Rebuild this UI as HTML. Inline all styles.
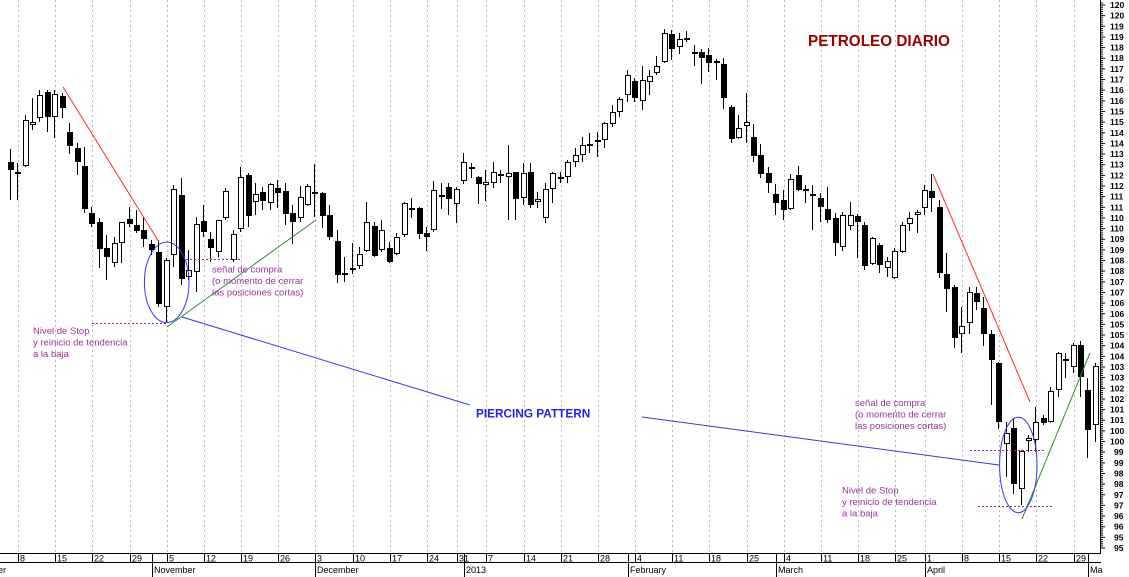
<!DOCTYPE html>
<html><head><meta charset="utf-8"><style>
html,body{margin:0;padding:0;background:#fff;}
svg{display:block;}
text{font-family:"Liberation Sans",Arial,sans-serif;}
</style></head><body>
<svg width="1129" height="577" viewBox="0 0 1129 577" xmlns="http://www.w3.org/2000/svg">
<rect x="0" y="0" width="1129" height="577" fill="#fff"/>
<!-- dotted vertical gridlines -->
<g stroke="#b8b8b8" stroke-width="1" stroke-dasharray="2 3">
<line x1="18.5" y1="0" x2="18.5" y2="553"/><line x1="55.5" y1="0" x2="55.5" y2="553"/><line x1="92.5" y1="0" x2="92.5" y2="553"/><line x1="130.5" y1="0" x2="130.5" y2="553"/><line x1="167.5" y1="0" x2="167.5" y2="553"/><line x1="204.5" y1="0" x2="204.5" y2="553"/><line x1="241.5" y1="0" x2="241.5" y2="553"/><line x1="278.5" y1="0" x2="278.5" y2="553"/><line x1="315.5" y1="0" x2="315.5" y2="553"/><line x1="353.5" y1="0" x2="353.5" y2="553"/><line x1="390.5" y1="0" x2="390.5" y2="553"/><line x1="427.5" y1="0" x2="427.5" y2="553"/><line x1="457.5" y1="0" x2="457.5" y2="553"/><line x1="486.5" y1="0" x2="486.5" y2="553"/><line x1="524.5" y1="0" x2="524.5" y2="553"/><line x1="561.5" y1="0" x2="561.5" y2="553"/><line x1="598.5" y1="0" x2="598.5" y2="553"/><line x1="635.5" y1="0" x2="635.5" y2="553"/><line x1="672.5" y1="0" x2="672.5" y2="553"/><line x1="709.5" y1="0" x2="709.5" y2="553"/><line x1="747.5" y1="0" x2="747.5" y2="553"/><line x1="784.5" y1="0" x2="784.5" y2="553"/><line x1="821.5" y1="0" x2="821.5" y2="553"/><line x1="858.5" y1="0" x2="858.5" y2="553"/><line x1="895.5" y1="0" x2="895.5" y2="553"/><line x1="925.5" y1="0" x2="925.5" y2="553"/><line x1="962.5" y1="0" x2="962.5" y2="553"/><line x1="999.5" y1="0" x2="999.5" y2="553"/><line x1="1036.5" y1="0" x2="1036.5" y2="553"/><line x1="1074.5" y1="0" x2="1074.5" y2="553"/>
</g>

<!-- wicks -->
<g fill="#000" shape-rendering="crispEdges">
<rect x="10" y="149" width="1" height="51"/><rect x="17" y="163" width="1" height="37"/><rect x="25" y="115" width="1" height="52"/><rect x="32" y="98" width="1" height="32"/><rect x="39" y="90" width="1" height="32"/><rect x="47" y="90" width="1" height="42"/><rect x="54" y="90" width="1" height="48"/><rect x="62" y="93" width="1" height="25"/><rect x="69" y="123" width="1" height="31"/><rect x="77" y="143" width="1" height="32"/>
<rect x="84" y="147" width="1" height="66"/><rect x="91" y="207" width="1" height="20"/><rect x="99" y="218" width="1" height="50"/><rect x="106" y="235" width="1" height="45"/><rect x="114" y="237" width="1" height="30"/><rect x="121" y="222" width="1" height="41"/><rect x="129" y="207" width="1" height="20"/><rect x="136" y="210" width="1" height="23"/><rect x="143" y="217" width="1" height="30"/><rect x="151" y="240" width="1" height="15"/>
<rect x="158" y="240" width="1" height="67"/><rect x="166" y="258" width="1" height="65"/><rect x="173" y="185" width="1" height="82"/><rect x="181" y="178" width="1" height="107"/><rect x="188" y="250" width="1" height="30"/><rect x="196" y="217" width="1" height="75"/><rect x="203" y="205" width="1" height="32"/><rect x="210" y="232" width="1" height="30"/><rect x="218" y="220" width="1" height="37"/><rect x="225" y="188" width="1" height="32"/>
<rect x="233" y="230" width="1" height="32"/><rect x="240" y="167" width="1" height="65"/><rect x="248" y="173" width="1" height="54"/><rect x="255" y="183" width="1" height="32"/><rect x="262" y="187" width="1" height="23"/><rect x="270" y="183" width="1" height="27"/><rect x="277" y="180" width="1" height="28"/><rect x="285" y="183" width="1" height="42"/><rect x="292" y="205" width="1" height="39"/><rect x="300" y="186" width="1" height="36"/>
<rect x="307" y="184" width="1" height="22"/><rect x="314" y="164" width="1" height="53"/><rect x="322" y="192" width="1" height="36"/><rect x="329" y="205" width="1" height="35"/><rect x="337" y="230" width="1" height="53"/><rect x="344" y="257" width="1" height="25"/><rect x="352" y="243" width="1" height="31"/><rect x="359" y="247" width="1" height="22"/><rect x="366" y="202" width="1" height="50"/><rect x="374" y="222" width="1" height="35"/>
<rect x="381" y="220" width="1" height="32"/><rect x="389" y="242" width="1" height="21"/><rect x="396" y="233" width="1" height="22"/><rect x="404" y="202" width="1" height="35"/><rect x="411" y="198" width="1" height="20"/><rect x="419" y="207" width="1" height="32"/><rect x="426" y="227" width="1" height="24"/><rect x="433" y="181" width="1" height="51"/><rect x="441" y="183" width="1" height="26"/><rect x="448" y="183" width="1" height="32"/>
<rect x="456" y="187" width="1" height="36"/><rect x="463" y="153" width="1" height="31"/><rect x="471" y="163" width="1" height="15"/><rect x="478" y="176" width="1" height="28"/><rect x="485" y="170" width="1" height="31"/><rect x="493" y="162" width="1" height="26"/><rect x="500" y="170" width="1" height="13"/><rect x="508" y="145" width="1" height="75"/><rect x="515" y="172" width="1" height="48"/><rect x="523" y="163" width="1" height="42"/>
<rect x="530" y="163" width="1" height="45"/><rect x="537" y="192" width="1" height="16"/><rect x="545" y="183" width="1" height="40"/><rect x="552" y="172" width="1" height="31"/><rect x="560" y="172" width="1" height="11"/><rect x="567" y="160" width="1" height="23"/><rect x="575" y="148" width="1" height="19"/><rect x="582" y="137" width="1" height="25"/><rect x="589" y="133" width="1" height="20"/><rect x="597" y="132" width="1" height="25"/>
<rect x="604" y="122" width="1" height="26"/><rect x="612" y="105" width="1" height="22"/><rect x="619" y="97" width="1" height="20"/><rect x="627" y="70" width="1" height="32"/><rect x="634" y="78" width="1" height="24"/><rect x="642" y="66" width="1" height="44"/><rect x="649" y="70" width="1" height="25"/><rect x="656" y="56" width="1" height="19"/><rect x="664" y="29" width="1" height="34"/><rect x="671" y="30" width="1" height="30"/>
<rect x="679" y="33" width="1" height="21"/><rect x="686" y="31" width="1" height="11"/><rect x="694" y="45" width="1" height="21"/><rect x="701" y="49" width="1" height="35"/><rect x="708" y="48" width="1" height="24"/><rect x="716" y="59" width="1" height="21"/><rect x="723" y="58" width="1" height="51"/><rect x="731" y="105" width="1" height="38"/><rect x="738" y="115" width="1" height="24"/><rect x="746" y="93" width="1" height="50"/>
<rect x="753" y="124" width="1" height="38"/><rect x="760" y="144" width="1" height="34"/><rect x="768" y="167" width="1" height="26"/><rect x="775" y="184" width="1" height="31"/><rect x="783" y="190" width="1" height="30"/><rect x="790" y="174" width="1" height="36"/><rect x="798" y="166" width="1" height="25"/><rect x="805" y="185" width="1" height="18"/><rect x="812" y="185" width="1" height="45"/><rect x="820" y="193" width="1" height="29"/>
<rect x="827" y="187" width="1" height="36"/><rect x="835" y="213" width="1" height="43"/><rect x="842" y="212" width="1" height="39"/><rect x="850" y="202" width="1" height="28"/><rect x="857" y="214" width="1" height="44"/><rect x="864" y="222" width="1" height="48"/><rect x="872" y="237" width="1" height="28"/><rect x="879" y="243" width="1" height="30"/><rect x="887" y="257" width="1" height="20"/><rect x="894" y="248" width="1" height="31"/>
<rect x="902" y="222" width="1" height="31"/><rect x="909" y="212" width="1" height="19"/><rect x="917" y="210" width="1" height="23"/><rect x="924" y="185" width="1" height="30"/><rect x="931" y="174" width="1" height="38"/><rect x="939" y="200" width="1" height="78"/><rect x="946" y="253" width="1" height="59"/><rect x="954" y="285" width="1" height="63"/><rect x="961" y="307" width="1" height="46"/><rect x="969" y="287" width="1" height="47"/>
<rect x="976" y="287" width="1" height="23"/><rect x="983" y="297" width="1" height="49"/><rect x="991" y="330" width="1" height="75"/><rect x="998" y="362" width="1" height="67"/><rect x="1006" y="422" width="1" height="55"/><rect x="1013" y="419" width="1" height="75"/><rect x="1021" y="450" width="1" height="55"/><rect x="1028" y="435" width="1" height="17"/><rect x="1035" y="407" width="1" height="45"/><rect x="1043" y="415" width="1" height="10"/>
<rect x="1050" y="387" width="1" height="36"/><rect x="1058" y="352" width="1" height="45"/><rect x="1065" y="353" width="1" height="25"/><rect x="1073" y="343" width="1" height="30"/><rect x="1080" y="341" width="1" height="56"/><rect x="1087" y="378" width="1" height="80"/><rect x="1095" y="363" width="1" height="79"/>
</g>

<!-- black bodies -->
<g fill="#000" shape-rendering="crispEdges">
<rect x="8" y="162" width="6" height="8"/><rect x="15" y="172" width="6" height="2"/><rect x="45" y="92" width="6" height="25"/><rect x="60" y="96" width="6" height="12"/><rect x="67" y="132" width="6" height="14"/><rect x="75" y="148" width="6" height="14"/><rect x="82" y="166" width="6" height="43"/><rect x="89" y="213" width="6" height="11"/><rect x="97" y="222" width="6" height="27"/><rect x="104" y="248" width="6" height="9"/>
<rect x="127" y="219" width="6" height="5"/><rect x="134" y="225" width="6" height="6"/><rect x="141" y="230" width="6" height="9"/><rect x="149" y="244" width="6" height="6"/><rect x="156" y="252" width="6" height="52"/><rect x="179" y="195" width="6" height="84"/><rect x="201" y="221" width="6" height="11"/><rect x="208" y="239" width="6" height="9"/><rect x="246" y="175" width="6" height="41"/><rect x="260" y="192" width="6" height="9"/>
<rect x="275" y="188" width="6" height="5"/><rect x="283" y="191" width="6" height="23"/><rect x="290" y="213" width="6" height="9"/><rect x="312" y="192" width="6" height="2"/><rect x="320" y="193" width="6" height="23"/><rect x="327" y="215" width="6" height="22"/><rect x="335" y="241" width="6" height="34"/><rect x="342" y="273" width="6" height="2"/><rect x="350" y="268" width="6" height="2"/><rect x="372" y="226" width="6" height="30"/>
<rect x="387" y="248" width="6" height="14"/><rect x="409" y="208" width="6" height="2"/><rect x="417" y="208" width="6" height="26"/><rect x="424" y="233" width="6" height="4"/><rect x="439" y="195" width="6" height="2"/><rect x="446" y="187" width="6" height="12"/><rect x="469" y="167" width="6" height="2"/><rect x="476" y="177" width="6" height="7"/><rect x="498" y="174" width="6" height="2"/><rect x="513" y="172" width="6" height="27"/>
<rect x="528" y="172" width="6" height="33"/><rect x="558" y="177" width="6" height="2"/><rect x="587" y="144" width="6" height="2"/><rect x="595" y="140" width="6" height="2"/><rect x="632" y="81" width="6" height="17"/><rect x="669" y="34" width="6" height="15"/><rect x="684" y="38" width="6" height="2"/><rect x="692" y="52" width="6" height="2"/><rect x="699" y="52" width="6" height="6"/><rect x="706" y="55" width="6" height="8"/>
<rect x="714" y="61" width="6" height="2"/><rect x="721" y="64" width="6" height="34"/><rect x="729" y="107" width="6" height="32"/><rect x="751" y="137" width="6" height="19"/><rect x="758" y="155" width="6" height="19"/><rect x="766" y="173" width="6" height="10"/><rect x="773" y="194" width="6" height="9"/><rect x="781" y="200" width="6" height="10"/><rect x="796" y="175" width="6" height="15"/><rect x="803" y="189" width="6" height="2"/>
<rect x="810" y="194" width="6" height="2"/><rect x="818" y="198" width="6" height="9"/><rect x="825" y="209" width="6" height="11"/><rect x="833" y="218" width="6" height="25"/><rect x="855" y="216" width="6" height="6"/><rect x="862" y="225" width="6" height="41"/><rect x="877" y="245" width="6" height="20"/><rect x="929" y="191" width="6" height="7"/><rect x="937" y="207" width="6" height="66"/><rect x="944" y="274" width="6" height="15"/>
<rect x="952" y="287" width="6" height="51"/><rect x="974" y="293" width="6" height="9"/><rect x="981" y="308" width="6" height="26"/><rect x="989" y="334" width="6" height="26"/><rect x="996" y="363" width="6" height="59"/><rect x="1011" y="428" width="6" height="56"/><rect x="1041" y="418" width="6" height="5"/><rect x="1063" y="359" width="6" height="2"/><rect x="1078" y="345" width="6" height="32"/><rect x="1085" y="390" width="6" height="40"/>
</g>

<!-- white bodies -->
<g fill="#fff" stroke="#000" stroke-width="1">
<rect x="23.5" y="120.5" width="5" height="45"/><rect x="30.5" y="122.5" width="5" height="2"/><rect x="37.5" y="95.5" width="5" height="22"/><rect x="52.5" y="94.5" width="5" height="22"/><rect x="112.5" y="243.5" width="5" height="19"/><rect x="119.5" y="222.5" width="5" height="20"/><rect x="164.5" y="260.5" width="5" height="46"/><rect x="171.5" y="189.5" width="5" height="65"/><rect x="186.5" y="270.5" width="5" height="6"/><rect x="194.5" y="224.5" width="5" height="47"/>
<rect x="216.5" y="220.5" width="5" height="31"/><rect x="223.5" y="191.5" width="5" height="26"/><rect x="231.5" y="234.5" width="5" height="25"/><rect x="238.5" y="177.5" width="5" height="51"/><rect x="253.5" y="194.5" width="5" height="7"/><rect x="268.5" y="184.5" width="5" height="18"/><rect x="298.5" y="197.5" width="5" height="20"/><rect x="305.5" y="186.5" width="5" height="18"/><rect x="357.5" y="254.5" width="5" height="11"/><rect x="364.5" y="222.5" width="5" height="28"/>
<rect x="379.5" y="230.5" width="5" height="19"/><rect x="394.5" y="237.5" width="5" height="16"/><rect x="402.5" y="203.5" width="5" height="31"/><rect x="431.5" y="190.5" width="5" height="39"/><rect x="454.5" y="189.5" width="5" height="14"/><rect x="461.5" y="162.5" width="5" height="18"/><rect x="483.5" y="182.5" width="5" height="2"/><rect x="491.5" y="172.5" width="5" height="10"/><rect x="506.5" y="173.5" width="5" height="3"/><rect x="521.5" y="173.5" width="5" height="24"/>
<rect x="535.5" y="199.5" width="5" height="2"/><rect x="543.5" y="189.5" width="5" height="28"/><rect x="550.5" y="173.5" width="5" height="15"/><rect x="565.5" y="162.5" width="5" height="14"/><rect x="573.5" y="155.5" width="5" height="6"/><rect x="580.5" y="145.5" width="5" height="9"/><rect x="602.5" y="123.5" width="5" height="16"/><rect x="610.5" y="112.5" width="5" height="11"/><rect x="617.5" y="99.5" width="5" height="12"/><rect x="625.5" y="75.5" width="5" height="19"/>
<rect x="640.5" y="80.5" width="5" height="20"/><rect x="647.5" y="76.5" width="5" height="5"/><rect x="654.5" y="66.5" width="5" height="6"/><rect x="662.5" y="33.5" width="5" height="28"/><rect x="677.5" y="39.5" width="5" height="7"/><rect x="736.5" y="128.5" width="5" height="9"/><rect x="744.5" y="122.5" width="5" height="3"/><rect x="788.5" y="179.5" width="5" height="29"/><rect x="840.5" y="215.5" width="5" height="31"/><rect x="848.5" y="215.5" width="5" height="10"/>
<rect x="870.5" y="238.5" width="5" height="25"/><rect x="885.5" y="261.5" width="5" height="6"/><rect x="892.5" y="251.5" width="5" height="26"/><rect x="900.5" y="225.5" width="5" height="26"/><rect x="907.5" y="218.5" width="5" height="5"/><rect x="915.5" y="212.5" width="5" height="2"/><rect x="922.5" y="190.5" width="5" height="17"/><rect x="959.5" y="326.5" width="5" height="7"/><rect x="967.5" y="292.5" width="5" height="30"/><rect x="1004.5" y="433.5" width="5" height="10"/>
<rect x="1019.5" y="451.5" width="5" height="37"/><rect x="1026.5" y="438.5" width="5" height="2"/><rect x="1033.5" y="422.5" width="5" height="17"/><rect x="1048.5" y="391.5" width="5" height="30"/><rect x="1056.5" y="353.5" width="5" height="36"/><rect x="1071.5" y="345.5" width="5" height="21"/><rect x="1093.5" y="366.5" width="5" height="58"/>
</g>

<!-- annotations -->
<g fill="none" stroke-width="1">
<line x1="63" y1="87" x2="159" y2="242" stroke="#ff2a2a"/>
<line x1="933" y1="174" x2="1030" y2="402" stroke="#ff2a2a"/>
<line x1="167" y1="327" x2="316" y2="220" stroke="#2e8b2e"/>
<line x1="1022" y1="519" x2="1090" y2="353" stroke="#2e8b2e"/>
<ellipse cx="166.7" cy="282.3" rx="22.3" ry="40.2" stroke="#3535ff"/>
<ellipse cx="1018.3" cy="465" rx="18.7" ry="47.7" stroke="#3535ff"/>
<line x1="182" y1="317" x2="470" y2="405" stroke="#3535ff"/>
<line x1="642" y1="417" x2="999" y2="465" stroke="#3535ff"/>
<g stroke="#8e2a8e" stroke-dasharray="2 2">
<line x1="92" y1="323.5" x2="167" y2="323.5"/>
<line x1="186" y1="259.5" x2="240" y2="259.5"/>
<line x1="970" y1="450.5" x2="1044" y2="450.5"/>
<line x1="978" y1="506.5" x2="1052" y2="506.5"/>
</g>
</g>

<text x="808" y="46" font-size="15.3" font-weight="bold" fill="#990000">PETROLEO DIARIO</text>
<text x="476" y="417.5" font-size="11.8" font-weight="bold" fill="#2222ee">PIERCING PATTERN</text>

<g font-size="9.5" fill="#993399">
<text x="212" y="272.5">señal de compra</text>
<text x="212" y="284">(o momento de cerrar</text>
<text x="212" y="295.5">las posiciones cortas)</text>
<text x="33" y="334">Nivel de Stop</text>
<text x="33" y="345.5">y reinicio de tendencia</text>
<text x="33" y="357">a la baja</text>
<text x="855" y="406">señal de compra</text>
<text x="855" y="417.5">(o momento de cerrar</text>
<text x="855" y="429">las posiciones cortas)</text>
<text x="842" y="493.5">Nivel de Stop</text>
<text x="842" y="505">y reinicio de tendencia</text>
<text x="842" y="516.5">a la baja</text>
</g>

<!-- right axis -->
<line x1="1100.5" y1="0" x2="1100.5" y2="553" stroke="#000"/>
<line x1="1102" y1="548.5" x2="1102" y2="2" stroke="#000" stroke-width="2" stroke-dasharray="1 1.129"/>
<line x1="1103" y1="548.5" x2="1103" y2="2" stroke="#000" stroke-width="4" stroke-dasharray="1 9.647"/>
<g font-size="8.5" font-weight="bold" fill="#000">
<text x="1114" y="551">95</text><text x="1114" y="540.4">95</text><text x="1114" y="529.7">96</text><text x="1114" y="519.1">96</text><text x="1114" y="508.4">97</text><text x="1114" y="497.8">97</text><text x="1114" y="487.1">98</text><text x="1114" y="476.5">98</text><text x="1114" y="465.8">99</text><text x="1114" y="455.2">99</text>
<text x="1110" y="444.5">100</text><text x="1110" y="433.9">100</text><text x="1110" y="423.2">101</text><text x="1110" y="412.6">101</text><text x="1110" y="401.9">102</text><text x="1110" y="391.3">102</text><text x="1110" y="380.6">103</text><text x="1110" y="370">103</text><text x="1110" y="359.4">104</text><text x="1110" y="348.7">104</text>
<text x="1110" y="338.1">105</text><text x="1110" y="327.4">105</text><text x="1110" y="316.8">106</text><text x="1110" y="306.1">106</text><text x="1110" y="295.5">107</text><text x="1110" y="284.8">107</text><text x="1110" y="274.2">108</text><text x="1110" y="263.5">108</text><text x="1110" y="252.9">109</text><text x="1110" y="242.2">109</text>
<text x="1110" y="231.6">110</text><text x="1110" y="221">110</text><text x="1110" y="210.3">111</text><text x="1110" y="199.7">111</text><text x="1110" y="189">112</text><text x="1110" y="178.4">112</text><text x="1110" y="167.7">113</text><text x="1110" y="157.1">113</text><text x="1110" y="146.4">114</text><text x="1110" y="135.8">114</text>
<text x="1110" y="125.1">115</text><text x="1110" y="114.5">115</text><text x="1110" y="103.8">116</text><text x="1110" y="93.2">116</text><text x="1110" y="82.5">117</text><text x="1110" y="71.9">117</text><text x="1110" y="61.2">118</text><text x="1110" y="50.6">118</text><text x="1110" y="40">119</text><text x="1110" y="29.3">119</text>
<text x="1110" y="18.7">120</text><text x="1110" y="8">120</text>
</g>

<!-- bottom date axis -->
<g stroke="#000" stroke-width="1" shape-rendering="crispEdges">
<line x1="0" y1="553.5" x2="1101" y2="553.5"/>
<line x1="0" y1="562.5" x2="1101" y2="562.5"/>
<line x1="18.5" y1="553" x2="18.5" y2="562"/><line x1="55.5" y1="553" x2="55.5" y2="562"/><line x1="92.5" y1="553" x2="92.5" y2="562"/><line x1="130.5" y1="553" x2="130.5" y2="562"/><line x1="167.5" y1="553" x2="167.5" y2="562"/><line x1="204.5" y1="553" x2="204.5" y2="562"/><line x1="241.5" y1="553" x2="241.5" y2="562"/><line x1="278.5" y1="553" x2="278.5" y2="562"/><line x1="353.5" y1="553" x2="353.5" y2="562"/><line x1="390.5" y1="553" x2="390.5" y2="562"/><line x1="427.5" y1="553" x2="427.5" y2="562"/><line x1="457.5" y1="553" x2="457.5" y2="562"/><line x1="486.5" y1="553" x2="486.5" y2="562"/><line x1="524.5" y1="553" x2="524.5" y2="562"/><line x1="561.5" y1="553" x2="561.5" y2="562"/><line x1="598.5" y1="553" x2="598.5" y2="562"/><line x1="635.5" y1="553" x2="635.5" y2="562"/><line x1="672.5" y1="553" x2="672.5" y2="562"/><line x1="709.5" y1="553" x2="709.5" y2="562"/><line x1="747.5" y1="553" x2="747.5" y2="562"/><line x1="784.5" y1="553" x2="784.5" y2="562"/><line x1="821.5" y1="553" x2="821.5" y2="562"/><line x1="858.5" y1="553" x2="858.5" y2="562"/><line x1="895.5" y1="553" x2="895.5" y2="562"/><line x1="962.5" y1="553" x2="962.5" y2="562"/><line x1="999.5" y1="553" x2="999.5" y2="562"/><line x1="1036.5" y1="553" x2="1036.5" y2="562"/><line x1="1074.5" y1="553" x2="1074.5" y2="562"/>
<line x1="152.5" y1="553" x2="152.5" y2="577"/><line x1="315.5" y1="553" x2="315.5" y2="577"/><line x1="464.5" y1="553" x2="464.5" y2="577"/><line x1="628.5" y1="553" x2="628.5" y2="577"/><line x1="776.5" y1="553" x2="776.5" y2="577"/><line x1="925.5" y1="553" x2="925.5" y2="577"/><line x1="1088.5" y1="553" x2="1088.5" y2="577"/>
</g>
<g font-size="9" fill="#000">
<text x="20" y="561.5">8</text><text x="57" y="561.5">15</text><text x="94" y="561.5">22</text><text x="132" y="561.5">29</text><text x="169" y="561.5">5</text><text x="206" y="561.5">12</text><text x="243" y="561.5">19</text><text x="280" y="561.5">26</text><text x="317" y="561.5">3</text><text x="355" y="561.5">10</text><text x="392" y="561.5">17</text><text x="429" y="561.5">24</text><text x="459" y="561.5">31</text><text x="488" y="561.5">7</text><text x="526" y="561.5">14</text><text x="563" y="561.5">21</text><text x="600" y="561.5">28</text><text x="637" y="561.5">4</text><text x="674" y="561.5">11</text><text x="711" y="561.5">18</text><text x="749" y="561.5">25</text><text x="786" y="561.5">4</text><text x="823" y="561.5">11</text><text x="860" y="561.5">18</text><text x="897" y="561.5">25</text><text x="927" y="561.5">1</text><text x="964" y="561.5">8</text><text x="1001" y="561.5">15</text><text x="1038" y="561.5">22</text><text x="1076" y="561.5">29</text>
<text x="6" y="573" text-anchor="end">October</text>
<text x="154" y="573">November</text><text x="317" y="573">December</text><text x="466" y="573">2013</text><text x="630" y="573">February</text><text x="778" y="573">March</text><text x="927" y="573">April</text><text x="1090" y="573">Ma</text>
</g>
</svg>
</body></html>
